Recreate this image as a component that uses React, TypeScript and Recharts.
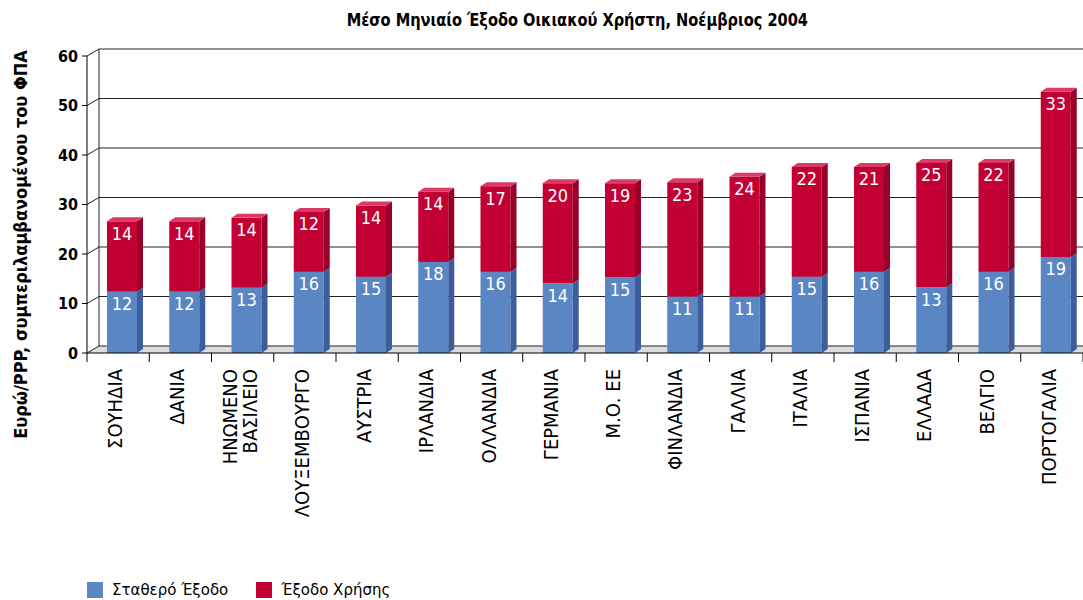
import * as React from 'react';
import {Bar, BarChart, CartesianGrid, LabelList, Legend, XAxis, YAxis} from 'recharts';

const categories = [
    'ΣΟΥΗΔΙΑ', 'ΔΑΝΙΑ', 'ΗΝΩΜΕΝΟ\nΒΑΣΙΛΕΙΟ', 'ΛΟΥΞΕΜΒΟΥΡΓΟ', 'ΑΥΣΤΡΙΑ', 'ΙΡΛΑΝΔΙΑ',
    'ΟΛΛΑΝΔΙΑ', 'ΓΕΡΜΑΝΙΑ', 'Μ.Ο. ΕΕ', 'ΦΙΝΛΑΝΔΙΑ', 'ΓΑΛΛΙΑ', 'ΙΤΑΛΙΑ', 'ΙΣΠΑΝΙΑ',
    'ΕΛΛΑΔΑ', 'ΒΕΛΓΙΟ', 'ΠΟΡΤΟΓΑΛΙΑ',
];
// Σταθερό Έξοδο
const fixedCost = [12.4, 12.4, 13.2, 16.4, 15.4, 18.4, 16.4, 14.1, 15.3, 11.4, 11.4, 15.4, 16.4, 13.3, 16.4, 19.4];
// Έξοδο Χρήσης
const usageCost = [14.2, 14.2, 14.1, 12.1, 14.4, 14.2, 17.3, 20.2, 19.0, 23.1, 24.2, 22.2, 21.2, 25.1, 22.0, 33.4];
const yTicks = [0, 10, 20, 30, 40, 50, 60];

const TITLE = 'Μέσο Μηνιαίο Έξοδο Οικιακού Χρήστη, Νοέμβριος 2004';
const Y_LABEL = 'Ευρώ/PPP, συμπεριλαμβανομένου του ΦΠΑ';
const FIXED_NAME = 'Σταθερό Έξοδο';
const USAGE_NAME = 'Έξοδο Χρήσης';

const BLUE = {front: '#5a87c4', side: '#3d5e9c', top: '#7ea2d6'};
const RED = {front: '#c20034', side: '#98002a', top: '#dc3a66'};

const W = 1083;
const H = 600;
const MARGIN = {top: 56, right: 0, bottom: 47, left: 47};
const PLOT_LEFT = 87;
const PLOT_BOTTOM = 353;
const PLOT_W = W - PLOT_LEFT - MARGIN.right;
// depth of the back wall and of the bars
const WALL_DX = 12;
const WALL_DY = 7;
const BAR_DX = 6;
const BAR_DY = 4;
const BAR_SHIFT = 4;

const condensed = "'DejaVu Sans Condensed', 'Liberation Sans Narrow', sans-serif";

type Row = {name: string; fixed: number; usage: number};
const data: Row[] = categories.map((name, i) => ({name, fixed: fixedCost[i], usage: usageCost[i]}));

const makeBar = (c: {front: string; side: string; top: string}) => (props: any) => {
    const {x, y, width, height} = props;
    if (!width || height == null) return <g />;
    const l = x + BAR_SHIFT;
    const r = l + width;
    const b = y + height;
    return (
        <g>
            <rect x={l} y={y} width={width} height={height} fill={c.front} />
            <polygon
                points={`${r},${y} ${r + BAR_DX},${y - BAR_DY} ${r + BAR_DX},${b - BAR_DY} ${r},${b}`}
                fill={c.side}
            />
            <polygon
                points={`${l},${y} ${l + BAR_DX},${y - BAR_DY} ${r + BAR_DX},${y - BAR_DY} ${r},${y}`}
                fill={c.top}
            />
        </g>
    );
};

const valueLabel = (props: any) => {
    const {x, y, width, value} = props;
    return (
        <text
            x={x + width / 2 + BAR_SHIFT}
            y={y + 12}
            textAnchor="middle"
            dominantBaseline="central"
            fill="#fff"
            fontFamily={condensed}
            fontSize={18}>
            {Math.round(value)}
        </text>
    );
};

const gridLine = (props: any) => {
    const {x1, y1, x2, index} = props;
    const top = props.y ?? MARGIN.top;
    const bottom = props.y != null && props.height != null ? props.y + props.height : PLOT_BOTTOM;
    const isBottom = Math.abs(y1 - bottom) < 1;
    const isTop = Math.abs(y1 - top) < 1;
    return (
        <g key={`gl-${index}`}>
            {isBottom && (
                <polygon
                    points={`${x1},${y1} ${x1 + WALL_DX},${y1 - WALL_DY} ${x2 + WALL_DX},${y1 - WALL_DY} ${x2},${y1}`}
                    fill="#dcdcdc"
                />
            )}
            {isTop && (
                <line
                    x1={x1 + WALL_DX}
                    y1={y1 - WALL_DY}
                    x2={x1 + WALL_DX}
                    y2={bottom - WALL_DY}
                    stroke="#222"
                />
            )}
            <line x1={x1 + WALL_DX} y1={y1 - WALL_DY} x2={x2 + WALL_DX} y2={y1 - WALL_DY} stroke="#222" />
            <line x1={x1} y1={y1} x2={x1 + WALL_DX} y2={y1 - WALL_DY} stroke="#222" />
        </g>
    );
};

const CategoryTick = (props: any) => {
    const {x, y, payload, index} = props;
    const band = PLOT_W / categories.length;
    const lines: string[] = String(payload.value).split('\n');
    const first = -((lines.length - 1) * 20) / 2;
    return (
        <g>
            <line x1={x - band / 2} y1={y} x2={x - band / 2} y2={y + 9} stroke="#000" />
            {index === categories.length - 1 && (
                <line x1={x + band / 2} y1={y} x2={x + band / 2} y2={y + 9} stroke="#000" />
            )}
            <g transform={`translate(${x - 3},${y + 16})`}>
                <text transform="rotate(-90)" textAnchor="end" fontFamily={condensed} fontSize={20} fill="#000">
                    {lines.map((t, i) => (
                        <tspan key={i} x={0} y={first + i * 20} dominantBaseline="central">
                            {t}
                        </tspan>
                    ))}
                </text>
            </g>
        </g>
    );
};

const yAxisLabel = (props: any) => {
    const vb = props.viewBox || {x: 47, y: 56, width: 40, height: 297};
    const cx = vb.x - 27;
    const cy = vb.y + vb.height / 2 + 40;
    return (
        <text
            x={cx}
            y={cy}
            transform={`rotate(-90, ${cx}, ${cy})`}
            textAnchor="middle"
            dominantBaseline="central"
            fontFamily={condensed}
            fontWeight="bold"
            fontSize={18}
            fill="#000">
            {Y_LABEL}
        </text>
    );
};

const legendContent = () => (
    <div style={{display: 'flex', alignItems: 'center', fontFamily: "'DejaVu Sans', sans-serif", fontSize: 15, color: '#000'}}>
        <span style={{width: 16, height: 16, background: BLUE.front, display: 'inline-block', marginRight: 9}} />
        <span style={{marginRight: 28}}>{FIXED_NAME}</span>
        <span style={{width: 16, height: 16, background: RED.front, display: 'inline-block', marginRight: 9}} />
        <span>{USAGE_NAME}</span>
    </div>
);

export default function App() {
    return (
        <div style={{position: 'absolute', left: 0, top: 0, width: W, height: H, background: '#fff'}}>
            <div
                style={{
                    position: 'absolute',
                    left: 0,
                    width: 1155,
                    top: 8,
                    textAlign: 'center',
                    fontFamily: condensed,
                    fontWeight: 'bold',
                    fontSize: 18,
                    lineHeight: '24px',
                    color: '#000',
                    zIndex: 2,
                }}>
                <span style={{display: 'inline-block', transform: 'scaleX(0.9)', transformOrigin: 'center'}}>{TITLE}</span>
            </div>
            <BarChart width={W} height={H} data={data} margin={MARGIN} barSize={30}>
                <CartesianGrid vertical={false} horizontal={gridLine} />
                <XAxis
                    dataKey="name"
                    interval={0}
                    height={200}
                    tickSize={0}
                    tickMargin={0}
                    tickLine={false}
                    axisLine={{stroke: '#000'}}
                    tick={<CategoryTick />}
                />
                <YAxis
                    type="number"
                    domain={[0, 60]}
                    ticks={yTicks}
                    width={40}
                    tickSize={5}
                    tickMargin={4}
                    axisLine={{stroke: '#000'}}
                    tickLine={{stroke: '#000'}}
                    tick={{fontFamily: condensed, fontWeight: 'bold', fontSize: 16, fill: '#000'}}
                    label={{content: yAxisLabel}}
                />
                <Legend
                    layout="horizontal"
                    verticalAlign="middle"
                    align="center"
                    wrapperStyle={{position: 'absolute', left: 87, top: 581, width: 'auto', height: 18}}
                    content={legendContent}
                />
                <Bar dataKey="fixed" name={FIXED_NAME} stackId="a" fill={BLUE.front} shape={makeBar(BLUE)} isAnimationActive={false}>
                    <LabelList dataKey="fixed" content={valueLabel} />
                </Bar>
                <Bar dataKey="usage" name={USAGE_NAME} stackId="a" fill={RED.front} shape={makeBar(RED)} isAnimationActive={false}>
                    <LabelList dataKey="usage" content={valueLabel} />
                </Bar>
            </BarChart>
        </div>
    );
}
